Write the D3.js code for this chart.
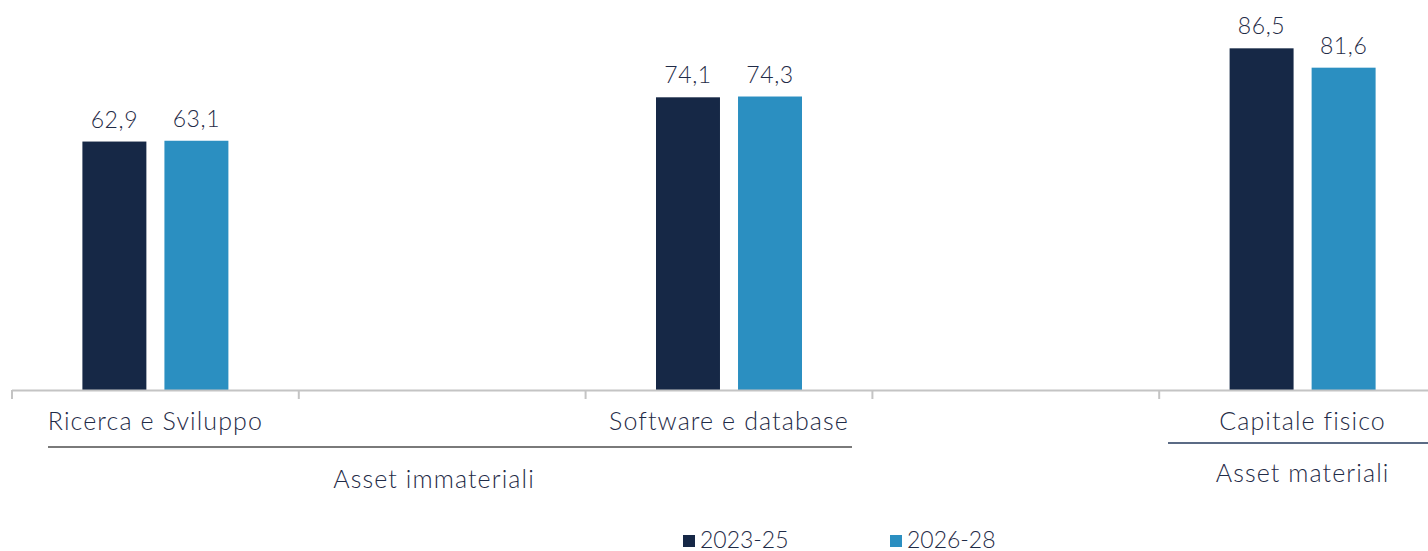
<!DOCTYPE html>
<html>
<head>
<meta charset="utf-8">
<script src="https://cdn.jsdelivr.net/npm/d3@7"></script>
<style>
  html, body { margin: 0; padding: 0; background: #ffffff; }
  svg { display: block; font-family: Lato, "Open Sans", sans-serif; font-weight: 300; }
</style>
</head>
<body>
<svg id="chart" width="1428" height="551"></svg>
<script>
// Categories along the axis (empty slots keep the spacing between groups)
const categories = ["Ricerca e Sviluppo", "gap1", "Software e database", "gap2", "Capitale fisico"];
const categoryLabels = ["Ricerca e Sviluppo", "", "Software e database", "", "Capitale fisico"];
const series = ["2023-25", "2026-28"];
const values2023 = [62.9, null, 74.1, null, 86.5];
const values2026 = [63.1, null, 74.3, null, 81.6];
const groups = ["Asset immateriali", "Asset materiali"];
const seriesColors = ["#162846", "#2b8fc1"];

const svg = d3.select("#chart");
const textColor = "#1f2b47";

const x = d3.scaleBand()
  .domain(categories)
  .range([12, 12 + 5 * 286.8])
  .padding(0);

const xInner = d3.scaleBand()
  .domain(series)
  .range([-73, 73])
  .paddingInner(0.22);

const y = d3.scaleLinear()
  .domain([0, 90])
  .range([390, 390 - 90 * 3.95]);

const fmt = v => d3.format(".1f")(v).replace(".", ",");

// Bars and value labels
const rows = [];
categories.forEach((c, i) => {
  [values2023[i], values2026[i]].forEach((v, s) => {
    if (v != null) rows.push({ cat: c, series: series[s], value: v, color: seriesColors[s] });
  });
});

svg.append("g").selectAll("rect")
  .data(rows)
  .join("rect")
  .attr("x", d => x(d.cat) + x.bandwidth() / 2 + xInner(d.series))
  .attr("y", d => y(d.value))
  .attr("width", xInner.bandwidth())
  .attr("height", d => y(0) - y(d.value))
  .attr("fill", d => d.color);

svg.append("g").selectAll("text")
  .data(rows)
  .join("text")
  .attr("x", d => x(d.cat) + x.bandwidth() / 2 + xInner(d.series) + xInner.bandwidth() / 2)
  .attr("y", d => y(d.value) - 14)
  .attr("text-anchor", "middle")
  .attr("font-size", 23)
  .attr("letter-spacing", 0.6)
  .attr("fill", textColor)
  .text(d => fmt(d.value));

// Category axis: baseline with ticks at the band edges
const axis = svg.append("g");
axis.append("line")
  .attr("x1", x.range()[0]).attr("x2", 1428)
  .attr("y1", y(0) + 0.5).attr("y2", y(0) + 0.5)
  .attr("stroke", "#c4c4c4").attr("stroke-width", 2);
const edges = categories.map(c => x(c));
axis.selectAll("line.tick")
  .data(edges)
  .join("line")
  .attr("class", "tick")
  .attr("x1", d => d).attr("x2", d => d)
  .attr("y1", y(0)).attr("y2", y(0) + 9)
  .attr("stroke", "#c4c4c4").attr("stroke-width", 2);

const labelSize = 25;
const labelSpacing = 1.1;

axis.selectAll("text.cat")
  .data(categories.map((c, i) => ({ c, label: categoryLabels[i] })).filter(d => d.label))
  .join("text")
  .attr("class", "cat")
  .attr("x", d => x(d.c) + x.bandwidth() / 2)
  .attr("y", 430)
  .attr("text-anchor", "middle")
  .attr("font-size", labelSize)
  .attr("letter-spacing", labelSpacing)
  .attr("fill", textColor)
  .text(d => d.label);

// Group brackets under the category labels
svg.append("line")
  .attr("x1", 48).attr("x2", 852)
  .attr("y1", 447).attr("y2", 447)
  .attr("stroke", "#7a7a7a").attr("stroke-width", 2);
svg.append("text")
  .attr("x", 434).attr("y", 488)
  .attr("text-anchor", "middle")
  .attr("font-size", labelSize)
  .attr("letter-spacing", labelSpacing)
  .attr("fill", textColor)
  .text(groups[0]);

svg.append("line")
  .attr("x1", 1168).attr("x2", 1428)
  .attr("y1", 443).attr("y2", 443)
  .attr("stroke", "#5b6b85").attr("stroke-width", 2);
svg.append("text")
  .attr("x", x("Capitale fisico") + x.bandwidth() / 2).attr("y", 482)
  .attr("text-anchor", "middle")
  .attr("font-size", labelSize)
  .attr("letter-spacing", labelSpacing)
  .attr("fill", textColor)
  .text(groups[1]);

// Legend
const legendX = [683, 890];
const legend = svg.append("g").selectAll("g")
  .data(series)
  .join("g")
  .attr("transform", (d, i) => `translate(${legendX[i]},535)`);
legend.append("rect")
  .attr("width", 12).attr("height", 12)
  .attr("fill", (d, i) => seriesColors[i]);
legend.append("text")
  .attr("x", 17).attr("y", 12.5)
  .attr("font-size", 23)
  .attr("fill", textColor)
  .text(d => d);
</script>
</body>
</html>
